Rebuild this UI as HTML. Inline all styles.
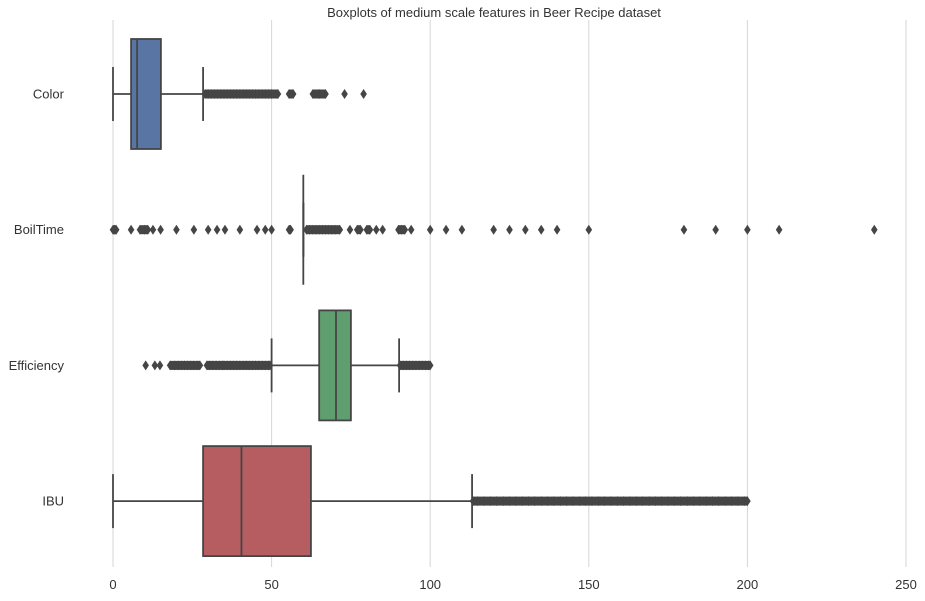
<!DOCTYPE html>
<html><head><meta charset="utf-8"><style>
html,body{margin:0;padding:0;background:#fff;}
svg text{font-family:"Liberation Sans",Arial,sans-serif;fill:#333;}
</style></head><body>
<svg id="chart" width="925" height="596" xmlns="http://www.w3.org/2000/svg">
<text x="494" y="17" font-size="13" text-anchor="middle">Boxplots of medium scale features in Beer Recipe dataset</text>
<g id="grid"></g><g id="marks"></g><g id="labels"></g>
</svg>
<script>
const categories = ["Color","BoilTime","Efficiency","IBU"];
const whiskLo = [0, 60, 50, 0];
const q1 = [5.7, 60, 65, 28.4];
const med = [7.6, 60, 70.3, 40.5];
const q3 = [15.1, 60, 75, 62.4];
const whiskHi = [28.4, 60, 90.2, 113.2];
const fills = ["#5875a4","#5875a4","#5f9e6e","#b55d60"];
const xTicks = [0,50,100,150,200,250];
const outColor = [29,30,31,32,33,34,35,36,37,38,39,40,41,42,43,44,45,46,47,48,49,50,52,55.5,56.8,63,65,67,73,79];
const outBoil = [0,0.5,1,5.7,8.5,10,11,12.6,15,20,25.5,30,32.8,35.3,40,45.4,48,50,55.5,56,61,62,63,64,65,66,67,68,69,70,71.5,74.7,77,78,80,81,83,85,90,91,92,94,100,105,110,120,125,130,135,140,150,180,190,200,210,240];
const outEff = [10.3,13.2,14.8,18,19.5,20.5,21.5,22.5,23.5,24.5,25.5,26.5,27.4,29.6,30.5,31.5,32.5,33.5,34.5,35,36,37,38,39,40,41,42,43,44,45,46,47,48,49,49.5,90.5,91.5,92.5,93.5,94.5,95.5,96.5,97.5,98.5,99.5,100];
const outIbu = [113.5,115,117,119,121,123,125,127,129,131,133,135,137,139,141,143,145,147,149,151,153,155,157,159,161,163,165,167,169,171,173,175,177,179,181,183,185,187,189,191,193,195,197,199,200];
const outliers = [outColor,outBoil,outEff,outIbu];

const NS="http://www.w3.org/2000/svg";
const x0=113, x1=906, xmin=0, xmax=250;
const xs = v => x0 + (v-xmin)/(xmax-xmin)*(x1-x0);
const rowY = i => 94 + i*135.7;
const bh = 110;
const runGap = [7,5,5,7];
function mk(tag, attrs, parent){const e=document.createElementNS(NS,tag);for(const k in attrs)e.setAttribute(k,attrs[k]);document.getElementById(parent).appendChild(e);return e;}
xTicks.forEach(t=>{
  const l=mk("line",{x1:xs(t),x2:xs(t),y1:20,y2:567,stroke:"#d6d6d6","stroke-width":1},"grid");
  
  
  const tx=mk("text",{x:xs(t),y:589,"font-size":13,"text-anchor":"middle"},"labels");
  tx.textContent=t;
  
  
});
const lc="#454545";
categories.forEach((c,i)=>{
  const y=rowY(i);
  const lab=mk("text",{x:64,y:y+4.5,"font-size":13,"text-anchor":"end"},"labels");
  lab.textContent=c;
  
  
  const g=mk("g",{},"marks");
  
  
  const gid='g'+i; g.id=gid;
  mk("line",{x1:xs(whiskLo[i]),x2:xs(q1[i]),y1:y,y2:y,stroke:lc,"stroke-width":1.8},gid);
  mk("line",{x1:xs(q3[i]),x2:xs(whiskHi[i]),y1:y,y2:y,stroke:lc,"stroke-width":1.8},gid);
  mk("line",{x1:xs(whiskLo[i]),x2:xs(whiskLo[i]),y1:y-27,y2:y+27,stroke:lc,"stroke-width":1.8},gid);
  mk("line",{x1:xs(whiskHi[i]),x2:xs(whiskHi[i]),y1:y-27,y2:y+27,stroke:lc,"stroke-width":1.8},gid);
  mk("rect",{x:xs(q1[i]),y:y-bh/2,width:Math.max(0,xs(q3[i])-xs(q1[i])),height:bh,fill:fills[i],stroke:lc,"stroke-width":1.8},gid);
  mk("line",{x1:xs(med[i]),x2:xs(med[i]),y1:y-bh/2,y2:y+bh/2,stroke:lc,"stroke-width":1.8},gid);
  outliers[i].forEach(v=>{
    const px=xs(v);
    const d=mk("path",{d:`M${px},${y-5} L${px+3.3},${y} L${px},${y+5} L${px-3.3},${y} Z`,fill:"#454545"},gid);
    
    
  });
  const ov=outliers[i].slice().sort((a,b)=>a-b);
  for(let k=1;k<ov.length;k++){
    if(xs(ov[k])-xs(ov[k-1])<runGap[i]){
      const r=mk("rect",{x:xs(ov[k-1]),y:y-4.5,width:xs(ov[k])-xs(ov[k-1]),height:9,fill:"#454545"},gid);
      
      
    }
  }
});
</script>
</body></html>
